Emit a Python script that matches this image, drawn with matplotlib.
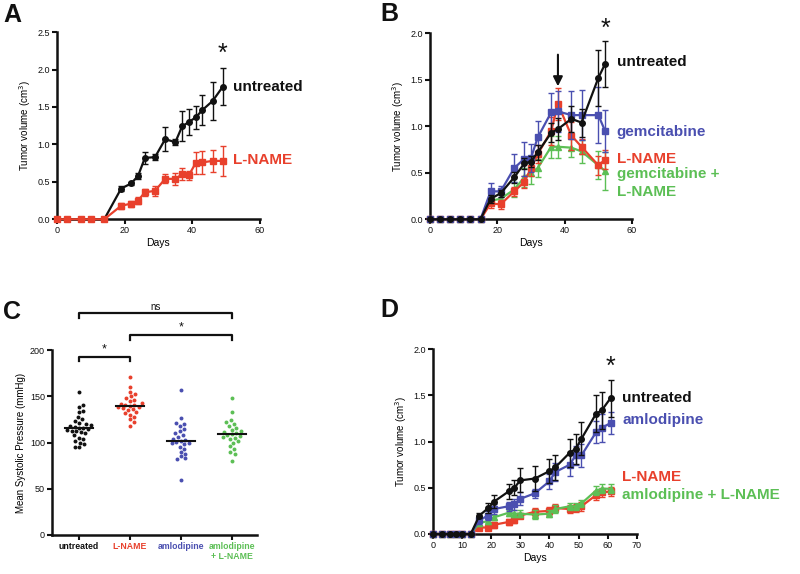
import matplotlib
matplotlib.use('Agg')
import matplotlib.pyplot as plt
import numpy as np

plt.rcParams['font.family'] = ['Liberation Sans', 'DejaVu Sans']

BLACK = '#111111'
RED = '#e8402c'
BLUE = '#4a4fb0'
GREEN = '#5cbf55'

# ---- panel A ----
a_days = [0, 3, 7, 10, 14, 19, 22, 24, 26, 29, 32, 35, 37, 39, 41, 43, 46, 49]
a_untr = [0, 0, 0, 0, 0, 0.41, 0.48, 0.58, 0.82, 0.83, 1.07, 1.03, 1.24, 1.30, 1.36, 1.46, 1.58, 1.77]
a_untr_err = [0, 0, 0, 0, 0, 0.03, 0.02, 0.04, 0.08, 0.04, 0.16, 0.04, 0.20, 0.17, 0.15, 0.20, 0.25, 0.25]
a_lname = [0, 0, 0, 0, 0, 0.18, 0.21, 0.25, 0.36, 0.38, 0.54, 0.54, 0.60, 0.59, 0.75, 0.76, 0.78, 0.78]
a_lname_err = [0, 0, 0, 0, 0, 0.04, 0.04, 0.05, 0.05, 0.07, 0.06, 0.08, 0.08, 0.06, 0.15, 0.15, 0.15, 0.20]

# ---- panel B ----
b_days = [0, 3, 6, 9, 12, 15, 18, 21, 25, 28, 30, 32, 36, 38, 42, 45, 50, 52]
b_untr = [0, 0, 0, 0, 0, 0, 0.22, 0.28, 0.45, 0.60, 0.62, 0.72, 0.93, 0.97, 1.08, 1.04, 1.52, 1.67]
b_untr_err = [0, 0, 0, 0, 0, 0, 0.04, 0.04, 0.06, 0.06, 0.06, 0.08, 0.10, 0.12, 0.14, 0.15, 0.30, 0.25]
b_gem = [0, 0, 0, 0, 0, 0, 0.30, 0.30, 0.55, 0.65, 0.66, 0.88, 1.15, 1.16, 1.12, 1.12, 1.12, 0.95]
b_gem_err = [0, 0, 0, 0, 0, 0, 0.09, 0.06, 0.15, 0.18, 0.15, 0.18, 0.21, 0.22, 0.26, 0.27, 0.30, 0.23]
b_lname = [0, 0, 0, 0, 0, 0, 0.17, 0.16, 0.30, 0.40, 0.55, 0.70, 0.95, 1.24, 0.90, 0.78, 0.58, 0.64]
b_lname_err = [0, 0, 0, 0, 0, 0, 0.05, 0.05, 0.05, 0.06, 0.08, 0.10, 0.15, 0.17, 0.15, 0.08, 0.10, 0.10]
b_combo = [0, 0, 0, 0, 0, 0, 0.20, 0.22, 0.32, 0.45, 0.50, 0.55, 0.78, 0.78, 0.77, 0.73, 0.58, 0.52]
b_combo_err = [0, 0, 0, 0, 0, 0, 0.05, 0.05, 0.08, 0.10, 0.12, 0.10, 0.12, 0.12, 0.10, 0.12, 0.15, 0.20]

# ---- panel C ----
c_groups = ['untreated', 'L-NAME', 'amlodipine', 'amlodipine\n+ L-NAME']
c_colors = [BLACK, RED, BLUE, GREEN]
c_untr = [155, 141, 138, 134, 133, 128, 125, 123, 121, 120, 119, 118, 117, 116, 116, 115,
          114, 113, 112, 111, 110, 108, 105, 104, 102, 100, 98, 95, 95]
c_lname = [171, 160, 155, 152, 150, 148, 146, 145, 143, 142, 141, 141, 140, 139, 138, 137,
           136, 135, 133, 132, 130, 128, 125, 122, 118]
c_amlo = [157, 127, 121, 120, 118, 115, 112, 110, 108, 106, 104, 103, 102, 101, 100, 99,
          98, 95, 93, 90, 88, 85, 83, 82, 59]
c_combo = [148, 133, 124, 122, 120, 118, 116, 114, 112, 111, 110, 109, 108, 107, 106, 105,
           104, 102, 100, 96, 93, 90, 88, 80]
c_center = [116, 140, 102, 109]

# ---- panel D ----
d_days = [0, 3, 6, 8, 10, 13, 16, 19, 21, 26, 28, 30, 35, 40, 42, 47, 49, 51, 56, 58, 61]
d_untr = [0, 0, 0, 0, 0, 0, 0.20, 0.28, 0.35, 0.46, 0.50, 0.58, 0.60, 0.68, 0.72, 0.88, 0.92, 1.03, 1.30, 1.34, 1.47]
d_untr_err = [0, 0, 0, 0, 0, 0, 0.03, 0.05, 0.07, 0.08, 0.08, 0.13, 0.14, 0.13, 0.14, 0.15, 0.16, 0.18, 0.20, 0.20, 0.20]
d_amlo = [0, 0, 0, 0, 0, 0, 0.15, 0.20, 0.27, 0.30, 0.32, 0.38, 0.44, 0.57, 0.67, 0.75, 0.85, 0.85, 1.10, 1.15, 1.20]
d_amlo_err = [0, 0, 0, 0, 0, 0, 0.04, 0.05, 0.05, 0.05, 0.06, 0.07, 0.05, 0.08, 0.10, 0.12, 0.10, 0.12, 0.12, 0.15, 0.12]
d_lname = [0, 0, 0, 0, 0, 0, 0.07, 0.07, 0.10, 0.13, 0.15, 0.20, 0.24, 0.25, 0.28, 0.27, 0.28, 0.30, 0.42, 0.45, 0.46]
d_lname_err = [0, 0, 0, 0, 0, 0, 0.02, 0.02, 0.03, 0.03, 0.03, 0.03, 0.04, 0.04, 0.04, 0.04, 0.04, 0.05, 0.05, 0.05, 0.05]
d_combo = [0, 0, 0, 0, 0, 0, 0.12, 0.14, 0.18, 0.23, 0.22, 0.22, 0.21, 0.22, 0.27, 0.30, 0.30, 0.33, 0.47, 0.49, 0.49]
d_combo_err = [0, 0, 0, 0, 0, 0, 0.03, 0.03, 0.03, 0.03, 0.04, 0.04, 0.05, 0.04, 0.04, 0.04, 0.04, 0.04, 0.05, 0.05, 0.05]


def style(ax):
    for s in ['top', 'right']:
        ax.spines[s].set_visible(False)
    for s in ['left', 'bottom']:
        ax.spines[s].set_linewidth(1.8)
        ax.spines[s].set_color(BLACK)
    ax.tick_params(width=1.5, length=3.5, labelsize=6.5, colors=BLACK, pad=1.5)


def series(ax, x, y, e, color, marker, z=3):
    ax.errorbar(x, y, yerr=e, color=color, marker=marker, ms=4, lw=1.6,
                elinewidth=1.0, capsize=2.5, capthick=1.0, zorder=z, clip_on=False)


def vol_label(ax):
    ax.set_ylabel('Tumor volume (cm$^3$)', fontsize=7, labelpad=3)


fig = plt.figure(figsize=(8, 5.74), dpi=100)

# A
axA = fig.add_axes([0.071, 0.618, 0.254, 0.326])
series(axA, a_days, a_untr, a_untr_err, BLACK, 'o', 4)
series(axA, a_days, a_lname, a_lname_err, RED, 's', 5)
axA.set_xlim(0, 60)
axA.set_ylim(0, 2.5)
axA.set_xticks([0, 20, 40, 60])
axA.set_yticks(np.arange(0, 2.51, 0.5))
axA.yaxis.set_major_formatter(matplotlib.ticker.FormatStrFormatter('%.1f'))
axA.set_xlabel('Days', fontsize=7.5, labelpad=2)
vol_label(axA)
style(axA)
axA.text(52, 1.77, 'untreated', fontsize=11, weight='bold', color=BLACK, va='center')
axA.text(52, 0.79, 'L-NAME', fontsize=11, weight='bold', color=RED, va='center')
axA.text(49, 2.05, '*', fontsize=18, color=BLACK, ha='center', va='bottom')

# B
axB = fig.add_axes([0.5375, 0.618, 0.2525, 0.324])
series(axB, b_days, b_untr, b_untr_err, BLACK, 'o', 6)
series(axB, b_days, b_gem, b_gem_err, BLUE, 's', 5)
series(axB, b_days, b_lname, b_lname_err, RED, 's', 4)
series(axB, b_days, b_combo, b_combo_err, GREEN, '^', 3)
axB.set_xlim(0, 60)
axB.set_ylim(0, 2.0)
axB.set_xticks([0, 20, 40, 60])
axB.set_yticks(np.arange(0, 2.01, 0.5))
axB.yaxis.set_major_formatter(matplotlib.ticker.FormatStrFormatter('%.1f'))
axB.set_xlabel('Days', fontsize=7.5, labelpad=2)
vol_label(axB)
style(axB)
axB.text(55.5, 1.69, 'untreated', fontsize=11, weight='bold', color=BLACK, va='center')
axB.text(55.5, 0.94, 'gemcitabine', fontsize=11, weight='bold', color=BLUE, va='center')
axB.text(55.5, 0.65, 'L-NAME', fontsize=11, weight='bold', color=RED, va='center')
axB.text(55.5, 0.49, 'gemcitabine +', fontsize=11, weight='bold', color=GREEN, va='center')
axB.text(55.5, 0.29, 'L-NAME', fontsize=11, weight='bold', color=GREEN, va='center')
axB.text(52, 1.92, '*', fontsize=18, color=BLACK, ha='center', va='bottom')
axB.annotate('', xy=(38, 1.40), xytext=(38, 1.80),
             arrowprops=dict(arrowstyle='-|>', color=BLACK, lw=1.5, mutation_scale=14))

# C
axC = fig.add_axes([0.065, 0.068, 0.256, 0.322])
c_sets = [c_untr, c_lname, c_amlo, c_combo]
px_x = 4.02 / 205.0  # data units per pixel, x
px_y = 200.0 / 185.0  # data units per pixel, y
dot = 4.4  # pixel spacing between dot centres
for i, vals in enumerate(c_sets):
    placed = []
    xs, ys = [], []
    for v in sorted(vals, key=lambda t: abs(t - c_center[i])):
        vy = v / px_y
        best = None
        for k in range(0, 40):
            for sgn in ([0] if k == 0 else [1, -1]):
                ox = sgn * k * 0.9
                if all((ox - px) ** 2 + (vy - py) ** 2 >= dot ** 2 for px, py in placed):
                    best = ox
                    break
            if best is not None:
                break
        placed.append((best, vy))
        xs.append(i + best * px_x)
        ys.append(v)
    axC.scatter(xs, ys, s=8, color=c_colors[i], zorder=3, linewidths=0)
    axC.plot([i - 0.27, i + 0.27], [c_center[i]] * 2, color=BLACK, lw=1.5, zorder=4)
axC.set_xlim(-0.53, 3.49)
axC.set_ylim(0, 200)
axC.set_yticks([0, 50, 100, 150, 200])
axC.set_xticks(range(4))
axC.set_xticklabels(c_groups)
style(axC)
for lab, col in zip(axC.get_xticklabels(), c_colors):
    lab.set_color(col)
    lab.set_fontweight('bold')
    lab.set_fontsize(6.3)
axC.set_ylabel('Mean Systolic Pressure (mmHg)', fontsize=7, labelpad=3)


def bracket(ax, x0, x1, y, label, ly, fs):
    ax.plot([x0, x0, x1, x1], [y - 5, y, y, y - 5], color=BLACK, lw=1.6, clip_on=False)
    ax.text((x0 + x1) / 2, ly, label, ha='center', va='center', fontsize=fs, color=BLACK)


bracket(axC, 0, 1, 193, '*', 201, 9)
bracket(axC, 1, 3, 216, '*', 225, 9)
bracket(axC, 0, 3, 240, 'ns', 247, 7)

# D
axD = fig.add_axes([0.541, 0.0697, 0.255, 0.322])
series(axD, d_days, d_untr, d_untr_err, BLACK, 'o', 6)
series(axD, d_days, d_amlo, d_amlo_err, BLUE, 's', 5)
series(axD, d_days, d_lname, d_lname_err, RED, 's', 3)
series(axD, d_days, d_combo, d_combo_err, GREEN, '^', 4)
axD.set_xlim(0, 70)
axD.set_ylim(0, 2.0)
axD.set_xticks(range(0, 71, 10))
axD.set_yticks(np.arange(0, 2.01, 0.5))
axD.yaxis.set_major_formatter(matplotlib.ticker.FormatStrFormatter('%.1f'))
axD.set_xlabel('Days', fontsize=7.5, labelpad=2)
vol_label(axD)
style(axD)
axD.text(65, 1.47, 'untreated', fontsize=11, weight='bold', color=BLACK, va='center')
axD.text(65, 1.23, 'amlodipine', fontsize=11, weight='bold', color=BLUE, va='center')
axD.text(65, 0.62, 'L-NAME', fontsize=11, weight='bold', color=RED, va='center')
axD.text(65, 0.42, 'amlodipine + L-NAME', fontsize=11, weight='bold', color=GREEN, va='center')
axD.text(61, 1.68, '*', fontsize=18, color=BLACK, ha='center', va='bottom')

# panel letters
for lab, x, y in [('A', 0.004, 0.974), ('B', 0.476, 0.975), ('C', 0.004, 0.456), ('D', 0.476, 0.46)]:
    fig.text(x, y, lab, fontsize=18, weight='bold', color=BLACK, va='center')

fig.savefig('out.png', dpi=100)
